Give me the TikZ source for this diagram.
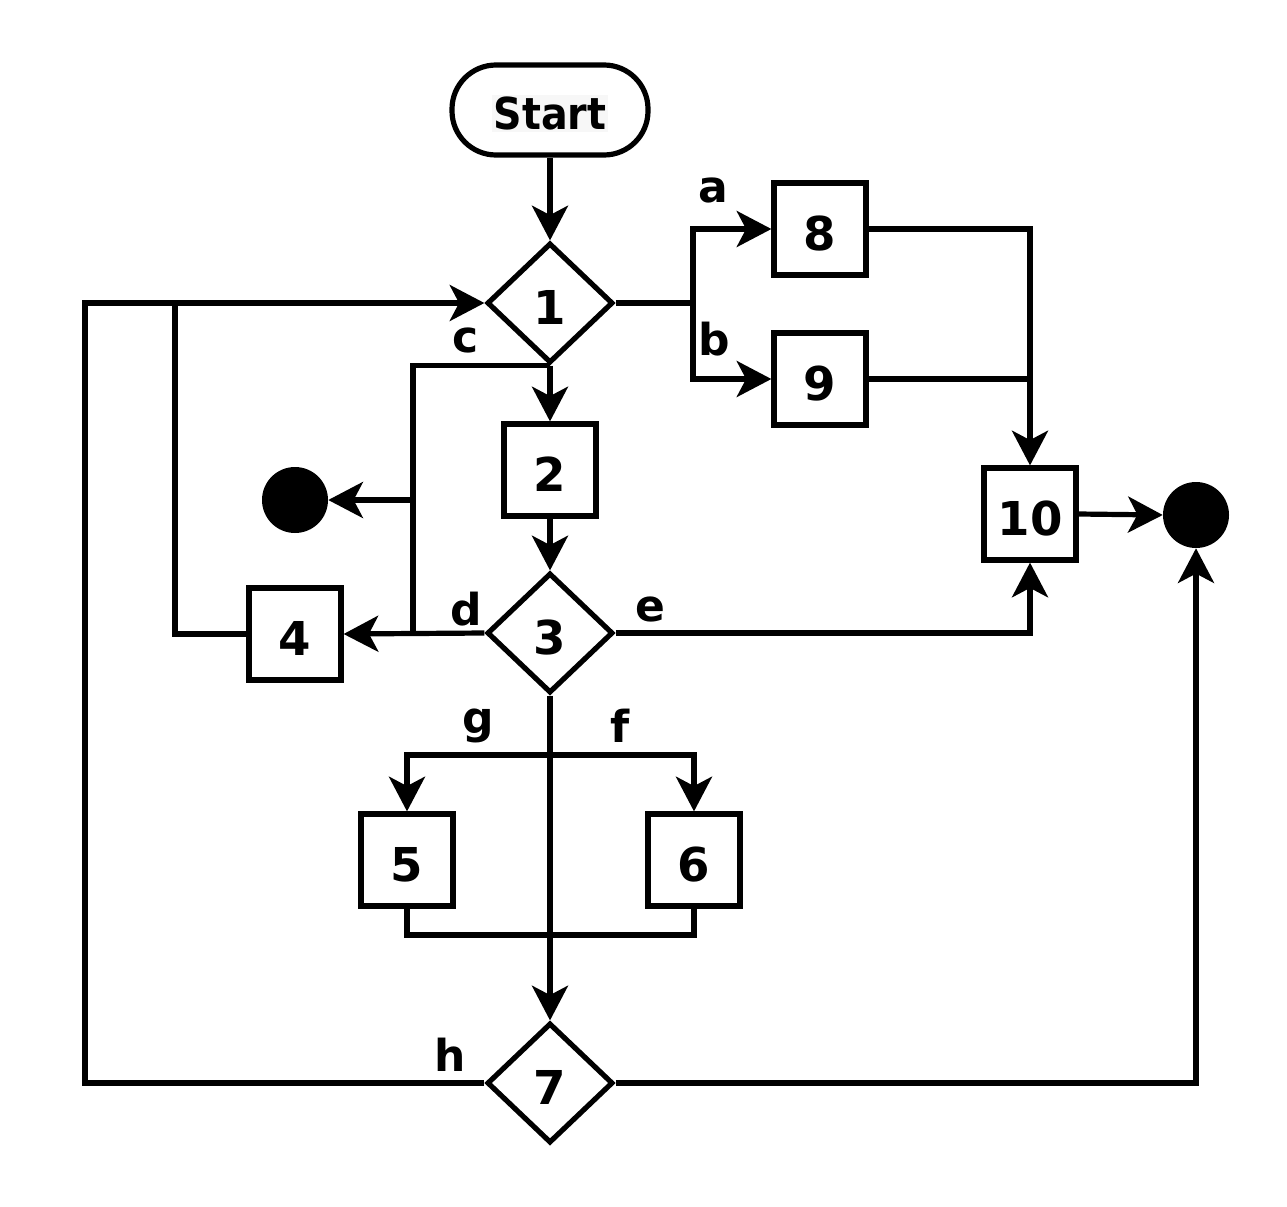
\documentclass[tikz,border=0pt]{standalone}
\usepackage{fontspec}
\setmainfont{DejaVu Sans}
\newfontfamily\startfont[FakeStretch=0.9]{DejaVu Sans}
\usetikzlibrary{arrows.meta,shapes.geometric}
\tikzset{
  flow/.style={line width=3.9pt},
  arr/.style={flow,-{Stealth[length=26pt,width=27pt,inset=7pt]}},
  box/.style={draw,line width=3.9pt,minimum width=69pt,minimum height=69pt,inner sep=0pt,text height=31.5pt,text depth=0pt,font=\fontsize{35}{40}\selectfont\bfseries},
  dia/.style={draw,diamond,line width=3.9pt,minimum width=94.5pt,minimum height=90pt,inner sep=0pt,text height=31.5pt,text depth=0pt,font=\fontsize{35}{40}\selectfont\bfseries},
  term/.style={draw,line width=3.9pt,rounded corners=33pt,minimum width=147pt,minimum height=67.5pt,inner sep=0pt,text height=31pt,text depth=1.5pt,font=\startfont\fontsize{33}{38}\selectfont\bfseries},
  dot/.style={circle,fill=black,minimum size=49.5pt,inner sep=0pt},
  lbl/.style={inner sep=0pt,font=\fontsize{33}{38}\selectfont\bfseries}
}
\begin{document}
\begin{tikzpicture}[x=0.75pt,y=-0.75pt]
\useasboundingbox (0,0) rectangle (1287,1206);
% nodes
\node[term] (start) at (550,110) {{\setlength{\fboxsep}{1.5pt}\colorbox{black!3}{Start}}};
\node[dia] (d1) at (550,303) {1};
\node[box] (b8) at (820,229) {8};
\node[box] (b9) at (820,379) {9};
\node[box] (b2) at (550,470) {2};
\node[dia] (d3) at (550,633) {3};
\node[box] (b4) at (295,634) {4};
\node[box] (b10) at (1030,514) {10};
\node[dot] (cL) at (295,500) {};
\node[dot] (cR) at (1196,515) {};
\node[box] (b5) at (407,860) {5};
\node[box] (b6) at (694,860) {6};
\node[dia] (d7) at (550,1083) {7};
% junction coordinates
\coordinate (jab) at (693,303);
\coordinate (j9) at (1030,379);
\coordinate (jc) at (413,633);
\coordinate (jL) at (413,500);
\coordinate (j4) at (175,303);
\coordinate (jh) at (85,303);
\coordinate (jfg) at (550,755);
\coordinate (j56) at (407,935);
% labels
\node[lbl] (la) at (713,190) {a};
\node[lbl] (lb) at (714,339) {b};
\node[lbl] (lc) at (466,340) {c};
\node[lbl] (ld) at (466,609) {d};
\node[lbl] (le) at (650,609) {e};
\node[lbl] (lf) at (620,726) {f};
\node[lbl] (lg) at (478,726) {g};
\node[lbl] (lh) at (450,1055) {h};
% connectors
\draw[arr] (start) -- (d1.north);
\draw[flow] (d1.east) -- (jab);
\draw[arr] (jab) |- (b8.west);
\draw[arr] (jab) |- (b9.west);
\draw[arr] (b8.east) -| (b10.north);
\draw[flow] (b9.east) -- (j9);
\draw[arr] (d1.south) -- (b2.north);
\draw[flow] (d1.south) -| (jc);
\draw[arr] (jL) -- (cL);
\draw[arr] (d3.west) -- (b4.east);
\draw[arr] (b2.south) -- (d3.north);
\draw[arr] (d3.east) -| (b10.south);
\draw[flow] (b4.west) -| (j4);
\draw[arr] (d7.west) -| (jh) -- (d1.west);
\draw[arr] (d3.south) -- (d7.north);
\draw[arr] (jfg) -| (b5.north);
\draw[arr] (jfg) -| (b6.north);
\draw[flow] (b5.south) -- (j56) -| (b6.south);
\draw[arr] (d7.east) -| (cR.south);
\draw[arr] (b10.east) -- (cR.west);
\end{tikzpicture}
\end{document}
